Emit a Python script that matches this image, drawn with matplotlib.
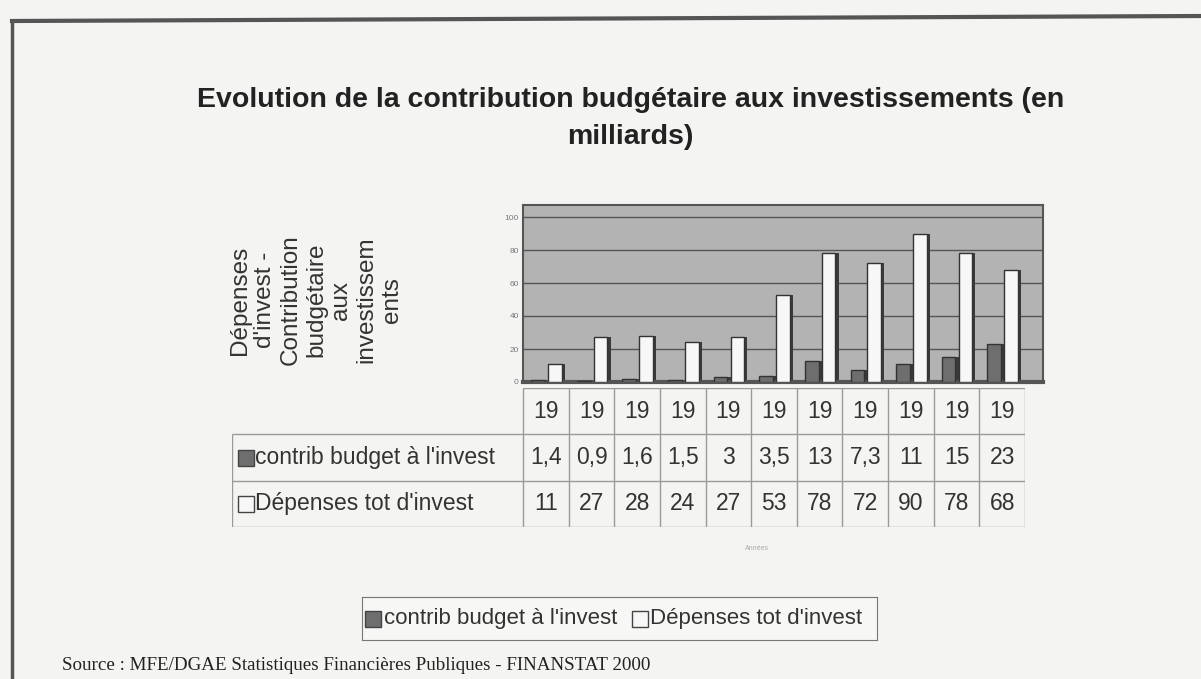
import matplotlib.pyplot as plt
import numpy as np

# données
annees = ["19"] * 11
contrib = [1.4, 0.9, 1.6, 1.5, 3, 3.5, 13, 7.3, 11, 15, 23]
depenses = [11, 27, 28, 24, 27, 53, 78, 72, 90, 78, 68]
contrib_txt = ["1,4", "0,9", "1,6", "1,5", "3", "3,5", "13", "7,3", "11", "15", "23"]
depenses_txt = ["11", "27", "28", "24", "27", "53", "78", "72", "90", "78", "68"]
yticks = [0, 20, 40, 60, 80, 100]

W, H = 1201, 679
def fx(p): return p / W
def fy(p): return 1 - p / H

font = "Liberation Sans"
txt = "#333333"
fig = plt.figure(figsize=(12.01, 6.79), dpi=100)
fig.patch.set_facecolor("#f4f4f2")

# cadre de la page
fig.add_artist(plt.Line2D([fx(12), 1], [fy(21), fy(16)], color="#555555", lw=3))
fig.add_artist(plt.Line2D([fx(12), fx(12)], [fy(21), 0], color="#555555", lw=2.5))

# titre
fig.text(0.525, fy(100), "Evolution de la contribution budgétaire aux investissements (en",
         ha="center", va="center", fontsize=20.5, fontweight="bold", family=font, color="#222222")
fig.text(0.525, fy(137), "milliards)", ha="center", va="center", fontsize=20.5,
         fontweight="bold", family=font, color="#222222")

# graphique
x0, x1 = 523, 1043
ax = fig.add_axes([fx(x0), fy(382), (x1 - x0) / W, 107 * 1.65 / H])
ax.set_facecolor("#b3b3b3")
x = np.arange(len(annees))
w = 0.3
# faces latérales (ombre 3D)
ax.bar(x - 0.17 + 0.07, contrib, w, color="#3a3a3a", zorder=2)
ax.bar(x + 0.2 + 0.07, depenses, w, color="#3a3a3a", zorder=2)
ax.bar(x - 0.17, contrib, w, color="#6e6e6e", edgecolor="#333333", lw=1, zorder=3)
ax.bar(x + 0.2, depenses, w, color="#f7f7f7", edgecolor="#333333", lw=1, zorder=3)
ax.set_xlim(-0.5, 10.9)
ax.set_ylim(0, 107)
ax.set_yticks(yticks)
ax.set_yticklabels([str(v) for v in yticks], fontsize=6, color="#777777", family=font)
ax.tick_params(axis="y", length=0, pad=3)
ax.set_xticks([])
ax.grid(axis="y", color="#555555", lw=1)
ax.set_axisbelow(True)
for s in ax.spines.values():
    s.set_color("#555555")
    s.set_linewidth(1.5)
ax.spines["bottom"].set_linewidth(3)

# titre de l'axe
fig.text(fx(316), fy(300),
         "Dépenses\nd'invest -\nContribution\nbudgétaire\naux\ninvestissem\nents",
         rotation=90, ha="center", va="center", multialignment="center",
         fontsize=17.5, family=font, color=txt, linespacing=1.2)

# tableau de données
tl = 232
tax = fig.add_axes([fx(tl), fy(527), (1025 - tl) / W, (527 - 388) / H])
xl = -0.5 - (x0 - tl) / ((x1 - x0) / 11.4)
tax.set_xlim(xl, 10.5)
tax.set_ylim(0, 3)
tax.axis("off")
lc = "#9a9a9a"
tax.vlines(np.arange(-0.5, 11), 0, 3, color=lc, lw=1)
tax.vlines(xl, 0, 2, color=lc, lw=1)
tax.hlines([0, 1, 2], xl, 10.5, color=lc, lw=1)
tax.hlines(3, -0.5, 10.5, color=lc, lw=1)
fs = 16.5
for i in range(len(annees)):
    tax.text(i, 2.5, annees[i], ha="center", va="center", fontsize=fs, family=font, color=txt)
    tax.text(i, 1.5, contrib_txt[i], ha="center", va="center", fontsize=fs, family=font, color=txt)
    tax.text(i, 0.5, depenses_txt[i], ha="center", va="center", fontsize=fs, family=font, color=txt)
tax.plot([xl + 0.3], [1.5], marker="s", ms=11, color="#6e6e6e", mec="#444444")
tax.plot([xl + 0.3], [0.5], marker="s", ms=11, color="#f7f7f7", mec="#444444")
tax.text(xl + 0.5, 1.5, "contrib budget à l'invest", ha="left", va="center",
         fontsize=fs, family=font, color=txt)
tax.text(xl + 0.5, 0.5, "Dépenses tot d'invest", ha="left", va="center",
         fontsize=fs, family=font, color=txt)

fig.text(fx(757), fy(548), "Années", ha="center", va="center", fontsize=5, color="#aaaaaa", family=font)

# légende
lfs = 16
lax = fig.add_axes([fx(362), fy(640), (877 - 362) / W, (640 - 597) / H])
lax.set_xlim(0, 1)
lax.set_ylim(0, 1)
lax.set_xticks([])
lax.set_yticks([])
lax.set_facecolor("#f7f7f5")
for s in lax.spines.values():
    s.set_color("#777777")
lax.plot([0.022], [0.5], marker="s", ms=11, color="#6e6e6e", mec="#444444")
lax.text(0.042, 0.5, "contrib budget à l'invest", ha="left", va="center", fontsize=lfs, family=font, color=txt)
lax.plot([0.54], [0.5], marker="s", ms=11, color="#f7f7f7", mec="#444444")
lax.text(0.56, 0.5, "Dépenses tot d'invest", ha="left", va="center", fontsize=lfs, family=font, color=txt)

# source
fig.text(fx(62), fy(666), "Source : MFE/DGAE Statistiques Financières Publiques - FINANSTAT 2000",
         ha="left", va="center", fontsize=13.7, family="Liberation Serif", color="#222222")

fig.savefig("out.png", dpi=100, facecolor=fig.get_facecolor())
